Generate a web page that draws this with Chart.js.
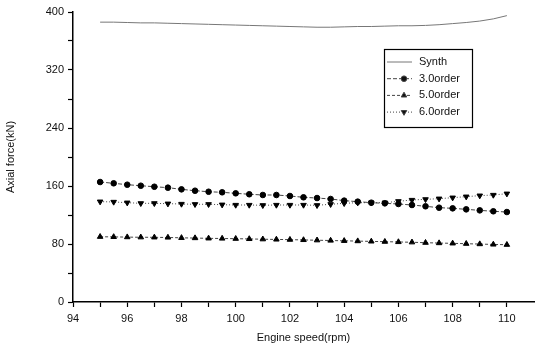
<!DOCTYPE html>
<html>
<head>
<meta charset="utf-8">
<script src="https://cdn.jsdelivr.net/npm/chart.js@4/dist/chart.umd.min.js"></script>
<style>
  html, body { margin: 0; padding: 0; background: #fff; }
  #wrap { width: 541px; height: 349px; }
</style>
</head>
<body>
<div id="wrap"><canvas id="axialChart" width="541" height="349"></canvas></div>
<script>
// engine speed (rpm), one sample every 0.5 rpm
const engineSpeed = [95, 95.5, 96, 96.5, 97, 97.5, 98, 98.5, 99, 99.5, 100, 100.5, 101, 101.5, 102, 102.5,
  103, 103.5, 104, 104.5, 105, 105.5, 106, 106.5, 107, 107.5, 108, 108.5, 109, 109.5, 110];

// axial force (kN)
const synth = [386, 386, 385.5, 385, 385, 384.5, 384, 383.5, 383, 382.5, 382, 381.5, 381, 380.5, 380, 379.5,
  379, 379, 379.5, 380, 380, 380.5, 381, 381, 381.5, 382.5, 384, 385.5, 387.5, 390.5, 395];
const order3 = [165.5, 163.7, 161.8, 160.4, 159, 157.7, 155.4, 153.5, 152.1, 151.3, 149.9, 148.6, 147.6, 147.6, 146.2, 144.4,
  143.4, 142.1, 139.8, 138.4, 137, 136.1, 135.2, 133.8, 132, 130.1, 129.2, 127.8, 126.4, 125.1, 124.1];
const order5 = [90, 89.8, 89.5, 89.3, 89.2, 89, 88.5, 88.2, 87.8, 87.6, 87.3, 87, 86.6, 86.3, 86, 85.6,
  85.2, 84.8, 84.4, 84, 83.6, 83.2, 82.8, 82.4, 81.8, 81.3, 80.9, 80.4, 79.9, 79.4, 79];
const order6 = [138.4, 138, 137, 136.1, 136.1, 135.6, 135.2, 134.8, 134.8, 134.2, 133.8, 133.8, 133.4, 133.8, 133.8, 133.8,
  133.4, 134.8, 136.1, 137, 137, 137, 138.9, 140.7, 141.6, 142.5, 143.9, 145.3, 146.7, 147.6, 149.4];

const seriesLabels = ['Synth', '3.0order', '5.0order', '6.0order'];
const xTickLabels = [94, 96, 98, 100, 102, 104, 106, 108, 110];
const yTickLabels = [0, 80, 160, 240, 320, 400];

const FONT = { family: 'Liberation Sans, Arial, sans-serif', size: 11 };

function toPoints(values) {
  return engineSpeed.map((x, i) => ({ x: x, y: values[i] }));
}

// legend box drawn inside the plot, top right
const boxLegend = {
  id: 'boxLegend',
  afterDraw(chart) {
    const ctx = chart.ctx;
    const area = chart.chartArea;
    const left = area.right - 150, top = area.top + 37;
    const w = 88, h = 78;
    ctx.save();
    ctx.strokeStyle = '#000';
    ctx.lineWidth = 1.2;
    ctx.strokeRect(left + 0.5, top + 0.5, w, h);
    ctx.font = FONT.size + 'px ' + FONT.family;
    ctx.textBaseline = 'middle';
    ctx.fillStyle = '#111';
    chart.data.datasets.forEach((ds, i) => {
      const y = top + 13 + i * 16.7;
      ctx.strokeStyle = ds.borderColor;
      ctx.lineWidth = ds.borderWidth;
      ctx.setLineDash(ds.borderDash || []);
      ctx.beginPath();
      ctx.moveTo(left + 3, y);
      ctx.lineTo(left + 28, y);
      ctx.stroke();
      ctx.setLineDash([]);
      if (ds.pointRadius > 0) {
        Chart.helpers.drawPoint(ctx, {
          pointStyle: ds.pointStyle,
          radius: ds.pointRadius,
          rotation: ds.pointRotation || 0,
          borderWidth: 1
        }, left + 20, y);
      }
      ctx.fillStyle = '#111';
      ctx.fillText(ds.label, left + 35, y);
    });
    ctx.restore();
  }
};

function marker(style, r, rot) {
  return {
    pointStyle: style,
    pointRadius: r,
    pointRotation: rot || 0,
    pointBackgroundColor: '#000',
    pointBorderColor: '#000',
    pointBorderWidth: 1
  };
}

new Chart(document.getElementById('axialChart'), {
  type: 'line',
  data: {
    datasets: [
      Object.assign({ label: seriesLabels[0], data: toPoints(synth), borderColor: '#777', borderWidth: 1, pointRadius: 0 }),
      Object.assign({ label: seriesLabels[1], data: toPoints(order3), borderColor: '#444', borderWidth: 1, borderDash: [4, 2] }, marker('circle', 2.8)),
      Object.assign({ label: seriesLabels[2], data: toPoints(order5), borderColor: '#444', borderWidth: 1, borderDash: [3, 2] }, marker('triangle', 3.2)),
      Object.assign({ label: seriesLabels[3], data: toPoints(order6), borderColor: '#444', borderWidth: 1, borderDash: [1, 2] }, marker('triangle', 3.2, 180))
    ]
  },
  options: {
    responsive: false,
    animation: false,
    layout: { padding: { top: 12, right: 7, left: 0, bottom: 0 } },
    plugins: { legend: { display: false }, tooltip: { enabled: false } },
    scales: {
      x: {
        type: 'linear',
        min: 94,
        max: 111,
        afterFit(s) { s.height = 47; },
        afterBuildTicks(s) { s.ticks = s.ticks.filter(t => Number.isInteger(t.value) && t.value <= 110); },
        ticks: {
          stepSize: 1,
          color: '#111',
          font: FONT,
          padding: 5,
          maxRotation: 0,
          autoSkip: false,
          callback: v => xTickLabels.includes(v) ? String(v) : ''
        },
        grid: { drawOnChartArea: false, tickLength: 5, tickColor: '#000', tickWidth: 1.2 },
        border: { color: '#000', width: 1.5 },
        title: { display: true, text: 'Engine speed(rpm)', color: '#111', font: FONT, padding: { top: 0, bottom: 4 } }
      },
      y: {
        min: 0,
        max: 400,
        afterFit(s) { s.width = 73; },
        ticks: {
          stepSize: 40,
          color: '#111',
          font: FONT,
          padding: 4,
          autoSkip: false,
          callback: v => yTickLabels.includes(v) ? String(v) : ''
        },
        grid: { drawOnChartArea: false, tickLength: 5, tickColor: '#000', tickWidth: 1.2 },
        border: { color: '#000', width: 1.5 },
        title: { display: true, text: 'Axial force(kN)', color: '#111', font: FONT, padding: { top: 4, bottom: 0 } }
      }
    }
  },
  plugins: [boxLegend]
});
</script>
</body>
</html>
